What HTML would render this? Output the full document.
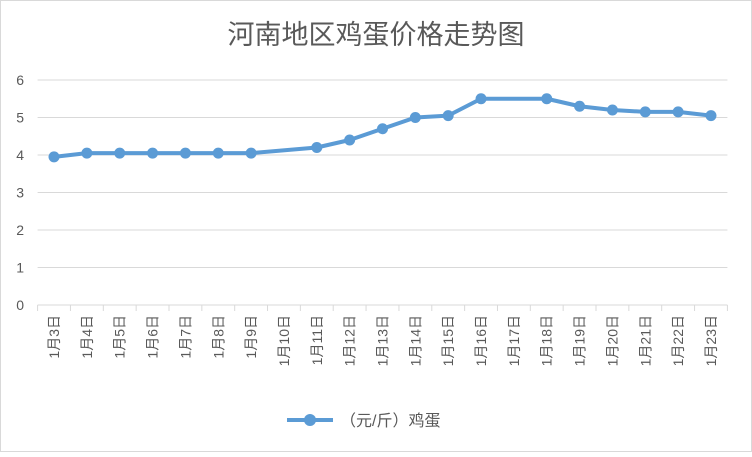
<!DOCTYPE html>
<html><head><meta charset="utf-8"><style>
body{margin:0;background:#fff;}
#c{width:752px;height:452px;position:relative;}
svg text{font-family:"Liberation Sans","Noto Sans CJK SC",sans-serif;}
</style></head><body>
<div id="c">
<svg id="s" width="752" height="452" xmlns="http://www.w3.org/2000/svg">
<rect x="0.5" y="0.5" width="751" height="451" fill="#fff" stroke="#d9d9d9"/>
<text x="376" y="44" text-anchor="middle" font-size="27" fill="#595959">河南地区鸡蛋价格走势图</text>
<g id="grid"></g><g id="yt"></g><g id="xt"></g><g id="ser"></g>
<g>
<line x1="287" y1="420" x2="333" y2="420" stroke="#5b9bd5" stroke-width="4"/>
<circle cx="310" cy="420" r="6" fill="#5b9bd5"/>
<text x="340" y="426" font-size="16" fill="#595959">（元/斤）鸡蛋</text>
</g>
</svg></div>
<script>
const categories=["1月3日","1月4日","1月5日","1月6日","1月7日","1月8日","1月9日","1月10日","1月11日","1月12日","1月13日","1月14日","1月15日","1月16日","1月17日","1月18日","1月19日","1月20日","1月21日","1月22日","1月23日"];
const prices=[3.95,4.05,4.05,4.05,4.05,4.05,4.05,null,4.2,4.4,4.7,5.0,5.05,5.5,null,5.5,5.3,5.2,5.15,5.15,5.05];
const yTicks=[0,1,2,3,4,5,6];
const NS="http://www.w3.org/2000/svg";
const L=37.6,R=727.4,T=80,B=305,yMax=6;
const bw=(R-L)/categories.length;
const xs=i=>L+bw*(i+0.5);
const ys=v=>B-(v/yMax)*(B-T);
function mk(tag,attrs,parent){const e=document.createElementNS(NS,tag);for(const k in attrs)e.setAttribute(k,attrs[k]);parent.appendChild(e);return e;}
const grid=document.getElementById('grid'),yt=document.getElementById('yt'),xt=document.getElementById('xt'),ser=document.getElementById('ser');
yTicks.forEach(v=>{
  const l=mk('line',{x1:L,x2:R,y1:ys(v),y2:ys(v),stroke:'#d9d9d9','stroke-width':1},grid);
  
  
  const t=mk('text',{x:24,y:ys(v)+5,'text-anchor':'end','font-size':14,fill:'#595959'},yt);
  t.textContent=v;
  
  
});
for(let i=0;i<=categories.length;i++){
  const tk=mk('line',{x1:L+bw*i,x2:L+bw*i,y1:B,y2:B+6,stroke:'#d9d9d9','stroke-width':1},xt);
  
  
}
categories.forEach((c,i)=>{
  const x=xs(i)+5,y=315;
  const t=mk('text',{x:x,y:y,'text-anchor':'end','font-size':14,fill:'#595959',transform:`rotate(-90 ${x} ${y})`},xt);
  t.textContent=c;
  
  
});
const pts=[];prices.forEach((v,i)=>{if(v!==null)pts.push([xs(i),ys(v)]);});
const pl=mk('polyline',{points:pts.map(p=>p.join(',')).join(' '),fill:'none',stroke:'#5b9bd5','stroke-width':4,'stroke-linejoin':'round','stroke-linecap':'round'},ser);


prices.forEach((v,i)=>{
  if(v===null)return;
  const c=mk('circle',{cx:xs(i),cy:ys(v),r:5.5,fill:'#5b9bd5'},ser);
  
  
});
</script>
</body></html>
